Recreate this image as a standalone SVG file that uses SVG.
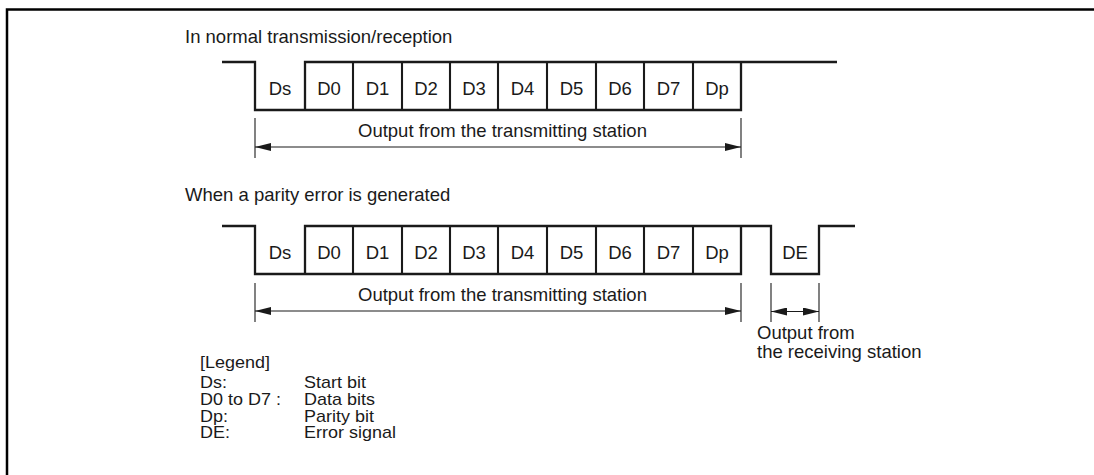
<svg xmlns="http://www.w3.org/2000/svg" width="1094" height="475" viewBox="0 0 1094 475">
<style>
text{font-family:"Liberation Sans",Arial,sans-serif;fill:#1a1a1a}
.t{font-size:18.5px}
.c{font-size:18.5px;text-anchor:middle}
.lg{font-size:18px}
.wave{fill:none;stroke:#1a1a1a;stroke-width:2.3;stroke-linejoin:miter}
.cell{stroke:#1a1a1a;stroke-width:2.1}
.dim{stroke:#1a1a1a;stroke-width:1.1;fill:none}
.frame{fill:none;stroke:#000;stroke-width:2.5}
</style>
<defs>
<marker id="ah" viewBox="0 0 16 8" refX="16" refY="4" markerWidth="16" markerHeight="8" markerUnits="userSpaceOnUse" orient="auto-start-reverse">
<path d="M0,0 L16,4 L0,8 z" fill="#1a1a1a"/>
</marker>
</defs>
<rect width="1094" height="475" fill="#fff"/>
<path class="frame" d="M7,475 V9.5 H1094"/>

<g id="title-normal"><text class="t" x="185" y="43">In normal transmission/reception</text></g>
<g id="title-error"><text class="t" x="185" y="201">When a parity error is generated</text></g>

<g id="wave-normal">
<path class="wave" d="M222,62 H255 V110 H741 V62 M305,110 V62 H837"/>
<g class="cell">
<line x1="353" y1="62" x2="353" y2="110"/><line x1="402" y1="62" x2="402" y2="110"/>
<line x1="450" y1="62" x2="450" y2="110"/><line x1="498" y1="62" x2="498" y2="110"/>
<line x1="547" y1="62" x2="547" y2="110"/><line x1="596" y1="62" x2="596" y2="110"/>
<line x1="644" y1="62" x2="644" y2="110"/><line x1="693" y1="62" x2="693" y2="110"/>
</g>
<text class="c" x="280" y="95">Ds</text><text class="c" x="329" y="95">D0</text>
<text class="c" x="377.5" y="95">D1</text><text class="c" x="426" y="95">D2</text>
<text class="c" x="474" y="95">D3</text><text class="c" x="522.5" y="95">D4</text>
<text class="c" x="571.5" y="95">D5</text><text class="c" x="620" y="95">D6</text>
<text class="c" x="668.5" y="95">D7</text><text class="c" x="717" y="95">Dp</text>
</g>

<g id="wave-error">
<path class="wave" d="M222,226 H255 V274 H741 V226 M305,274 V226 H771 V274 H819 V226 H855"/>
<g class="cell">
<line x1="353" y1="226" x2="353" y2="274"/><line x1="402" y1="226" x2="402" y2="274"/>
<line x1="450" y1="226" x2="450" y2="274"/><line x1="498" y1="226" x2="498" y2="274"/>
<line x1="547" y1="226" x2="547" y2="274"/><line x1="596" y1="226" x2="596" y2="274"/>
<line x1="644" y1="226" x2="644" y2="274"/><line x1="693" y1="226" x2="693" y2="274"/>
</g>
<text class="c" x="280" y="259">Ds</text><text class="c" x="329" y="259">D0</text>
<text class="c" x="377.5" y="259">D1</text><text class="c" x="426" y="259">D2</text>
<text class="c" x="474" y="259">D3</text><text class="c" x="522.5" y="259">D4</text>
<text class="c" x="571.5" y="259">D5</text><text class="c" x="620" y="259">D6</text>
<text class="c" x="668.5" y="259">D7</text><text class="c" x="717" y="259">Dp</text>
<text class="c" x="795" y="259">DE</text>
</g>

<g id="connectors">
<line class="dim" x1="255" y1="118" x2="255" y2="158"/>
<line class="dim" x1="741" y1="118" x2="741" y2="158"/>
<line class="dim" x1="255" y1="147" x2="741" y2="147" marker-start="url(#ah)" marker-end="url(#ah)"/>
<line class="dim" x1="255" y1="283" x2="255" y2="322"/>
<line class="dim" x1="741" y1="283" x2="741" y2="322"/>
<line class="dim" x1="255" y1="311" x2="741" y2="311" marker-start="url(#ah)" marker-end="url(#ah)"/>
<line class="dim" x1="771" y1="283" x2="771" y2="322"/>
<line class="dim" x1="819" y1="283" x2="819" y2="322"/>
<line class="dim" x1="771" y1="311.5" x2="819" y2="311.5" marker-start="url(#ah)" marker-end="url(#ah)"/>
</g>

<g id="label-tx1"><text class="t" x="358" y="137">Output from the transmitting station</text></g>
<g id="label-tx2"><text class="t" x="358" y="301">Output from the transmitting station</text></g>
<g id="label-rx"><text class="t" x="757" y="339">Output from</text><text class="t" x="757" y="358">the receiving station</text></g>

<g id="legend">
<text class="lg" x="200" y="368" transform="matrix(1,0,0,0.9,0,36.8)">[Legend]</text>
<text class="lg" x="200" y="388" transform="matrix(1,0,0,0.9,0,38.8)">Ds:</text><text class="lg" x="304" y="388" transform="matrix(1,0,0,0.9,0,38.8)">Start bit</text>
<text class="lg" x="200" y="405" transform="matrix(1,0,0,0.9,0,40.5)">D0 to D7 :</text><text class="lg" x="304" y="405" transform="matrix(1,0,0,0.9,0,40.5)">Data bits</text>
<text class="lg" x="200" y="422" transform="matrix(1,0,0,0.9,0,42.2)">Dp:</text><text class="lg" x="304" y="422" transform="matrix(1,0,0,0.9,0,42.2)">Parity bit</text>
<text class="lg" x="200" y="438" transform="matrix(1,0,0,0.9,0,43.8)">DE:</text><text class="lg" x="304" y="438" transform="matrix(1,0,0,0.9,0,43.8)">Error signal</text>
</g>
</svg>
